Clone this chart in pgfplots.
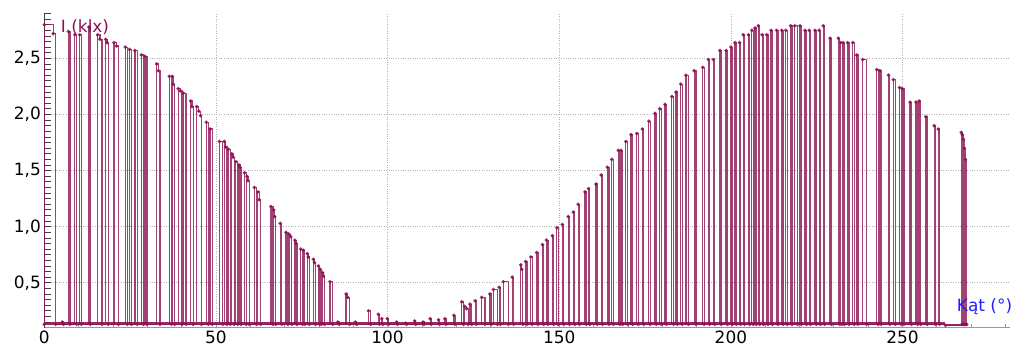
\documentclass[border=0pt]{standalone}
\usepackage{pgfplots}
\pgfplotsset{compat=1.18}
\usepackage{fontspec}
\setmainfont{DejaVu Sans}
\usetikzlibrary{calc}
\definecolor{lux}{RGB}{140,18,82}
\definecolor{kat}{RGB}{30,30,255}
\begin{document}
\begin{tikzpicture}
\begin{axis}[name=ax, scale only axis, width=965.7bp, height=314.2bp,
 xmin=0, xmax=281.3, ymin=0.1, ymax=2.9,
 axis x line=bottom, axis y line=left, axis line style={-},
 x axis line style={gray!80, line width=0.8bp}, y axis line style={black!75, line width=0.8bp},
 xtick={0,50,...,250}, ytick={0.5,1,1.5,2,2.5},
 minor xtick={10,20,...,280}, minor ytick={0.1,0.15,...,2.91},
 tick align=inside,
 major tick length=7bp, minor tick length=7bp,
 xtick style={gray!80, line width=0.8bp, /pgfplots/major tick length=4bp, /pgfplots/minor tick length=4bp},
 ytick style={black!75, line width=0.8bp},
 grid=major, grid style={dotted, gray!60, line width=0.8bp},
 tick label style={font=\fontsize{17}{20}\selectfont, black},
 /pgf/number format/assume math mode=true,
 yticklabel style={/pgf/number format/.cd, fixed, fixed zerofill, precision=1, use comma},
 xticklabel style={/pgf/number format/.cd, fixed, precision=0},
 clip=false,
]
% noise floor between the peaks
\addplot[lux, line width=3.2bp, opacity=0.9, mark=none] coordinates {(0,0.135) (262.3,0.135)};
\addplot[lux, line width=1.5bp, opacity=0.9, mark=none] coordinates {(262.3,0.125) (268.7,0.125)};
\addplot[const plot, color=lux, line width=1.25bp, opacity=0.8, mark=*, mark size=1.1bp, mark options={solid}] coordinates {
(0,0.13) (0,2.80) (2.6,2.72) (3.3,0.13)
(5.2,0.15) (5.6,0.13)
(7.0,2.74) (7.5,0.13)
(8.9,2.71) (9.4,0.13)
(10.3,2.71) (10.8,0.13)
(13.0,2.78) (13.4,0.13)
(15.5,2.71) (16.2,2.67) (16.8,0.13)
(17.9,2.67) (18.3,2.64) (18.6,0.13)
(20.3,2.64) (21.0,2.61) (21.6,0.13)
(23.6,2.60) (24.2,0.13)
(24.8,2.58) (25.4,0.13)
(26.4,2.57) (27.1,0.13)
(28.3,2.53) (28.9,0.13)
(29.3,2.52) (29.9,0.13)
(32.7,2.45) (33.2,2.39) (33.7,0.13)
(36.4,2.34) (37.0,0.13)
(37.3,2.34) (37.6,2.27) (38.0,0.13)
(39.0,2.23) (39.6,2.21) (40.1,0.13)
(40.5,2.19) (41.3,0.13)
(42.6,2.12) (43.0,2.07) (43.4,0.13)
(44.4,2.07) (45.0,2.03) (45.5,1.99) (45.8,0.13)
(47.2,1.93) (47.8,0.13)
(48.3,1.87) (48.9,0.13)
(51.0,1.76) (52.0,0.13)
(52.4,1.76) (52.8,1.71) (53.2,0.13)
(53.6,1.69) (54.2,0.13)
(54.6,1.65) (55.0,1.62) (55.3,0.13)
(55.8,1.58) (56.3,0.13)
(56.7,1.55) (57.0,1.53) (57.3,0.13)
(58.3,1.48) (58.8,0.13)
(59.0,1.45) (59.3,1.41) (59.7,0.13)
(61.2,1.35) (61.8,0.13)
(62.2,1.31) (62.6,1.24) (63.0,0.13)
(66.0,1.18) (66.6,0.13)
(66.8,1.15) (67.1,1.09) (67.4,0.13)
(68.7,1.03) (69.2,0.13)
(70.4,0.95) (71.0,0.13)
(71.4,0.93) (71.8,0.91) (72.1,0.13)
(73.0,0.88) (73.3,0.85) (73.6,0.13)
(74.7,0.80) (75.2,0.13)
(75.5,0.79) (75.9,0.13)
(76.6,0.76) (76.9,0.73) (77.2,0.13)
(78.4,0.71) (78.7,0.68) (79.0,0.13)
(79.8,0.65) (80.2,0.13)
(80.4,0.62) (80.7,0.13)
(81.1,0.59) (81.3,0.56) (81.6,0.13)
(83.2,0.51) (84.0,0.13)
(85.5,0.15) (85.9,0.13)
(87.9,0.40) (88.4,0.37) (88.9,0.13)
(90.6,0.15) (91.0,0.13)
(94.4,0.25) (95.1,0.13)
(97.3,0.22) (97.6,0.13)
(98.3,0.18) (98.6,0.13)
(99.9,0.18) (100.3,0.13)
(102.6,0.15) (102.9,0.13)
(105.2,0.14) (105.5,0.13)
(107.9,0.16) (108.2,0.13)
(110.3,0.15) (110.6,0.13)
(112.4,0.18) (112.7,0.13)
(114.8,0.17) (115.1,0.13)
(116.7,0.18) (117.0,0.13)
(119.3,0.21) (119.6,0.13)
(121.6,0.33) (122.1,0.13)
(122.4,0.29) (123.0,0.27) (123.5,0.13)
(124.0,0.31) (124.5,0.13)
(125.5,0.34) (125.8,0.13)
(127.4,0.37) (128.4,0.13)
(129.8,0.40) (130.2,0.13)
(130.8,0.44) (132.0,0.13)
(132.5,0.46) (132.9,0.13)
(133.7,0.51) (135.2,0.13)
(136.3,0.55) (136.7,0.13)
(138.8,0.66) (139.1,0.62) (139.4,0.13)
(140.2,0.69) (140.6,0.13)
(141.7,0.73) (142.1,0.13)
(143.4,0.77) (143.8,0.13)
(145.1,0.84) (145.5,0.13)
(146.3,0.88) (146.7,0.13)
(148.0,0.92) (148.4,0.13)
(149.3,0.99) (149.7,0.13)
(150.9,1.02) (151.3,0.13)
(152.6,1.09) (153.0,0.13)
(154.1,1.13) (154.5,0.13)
(155.5,1.20) (155.9,0.13)
(157.5,1.31) (157.9,0.13)
(158.5,1.34) (158.9,0.13)
(160.7,1.38) (161.1,0.13)
(162.2,1.46) (162.6,0.13)
(164.0,1.53) (164.5,0.13)
(165.3,1.60) (165.8,0.13)
(167.2,1.68) (167.7,0.13)
(168.0,1.68) (168.5,0.13)
(169.4,1.76) (169.9,0.13)
(170.9,1.82) (171.4,0.13)
(172.6,1.83) (173.0,0.13)
(174.2,1.87) (174.6,0.13)
(176.1,1.94) (176.5,0.13)
(177.9,2.01) (178.3,0.13)
(179.3,2.05) (179.7,0.13)
(180.8,2.09) (181.2,0.13)
(182.8,2.16) (183.3,0.13)
(184.0,2.20) (184.4,0.13)
(185.4,2.27) (185.8,0.13)
(186.9,2.35) (187.6,0.13)
(189.3,2.39) (189.8,0.13)
(191.8,2.42) (192.2,0.13)
(193.4,2.49) (193.8,0.13)
(194.9,2.49) (195.3,0.13)
(196.8,2.57) (197.2,0.13)
(198.6,2.57) (199.0,0.13)
(200.0,2.60) (200.4,0.13)
(201.2,2.64) (201.6,0.13)
(202.5,2.64) (202.9,0.13)
(203.6,2.71) (204.0,0.13)
(205.1,2.71) (205.5,0.13)
(206.1,2.75) (206.5,0.13)
(207.0,2.77) (207.4,0.13)
(208.0,2.79) (208.4,0.13)
(209.1,2.71) (209.5,0.13)
(210.4,2.71) (210.8,0.13)
(211.7,2.75) (212.1,0.13)
(213.3,2.75) (213.7,0.13)
(214.8,2.75) (215.2,0.13)
(216.0,2.75) (216.4,0.13)
(217.4,2.79) (217.8,0.13)
(218.6,2.79) (219.4,0.13)
(220.1,2.79) (220.5,0.13)
(221.6,2.75) (222.0,0.13)
(222.8,2.75) (223.2,0.13)
(224.5,2.75) (224.9,0.13)
(225.7,2.75) (226.1,0.13)
(226.9,2.79) (227.3,0.13)
(228.9,2.68) (229.3,0.13)
(231.3,2.68) (231.7,0.13)
(232.0,2.64) (232.4,0.13)
(232.7,2.64) (233.1,0.13)
(234.0,2.64) (234.4,0.13)
(235.5,2.64) (235.9,0.13)
(236.6,2.53) (237.0,0.13)
(238.4,2.49) (239.5,0.13)
(242.5,2.40) (242.9,0.13)
(243.4,2.39) (243.8,0.13)
(245.9,2.35) (246.3,0.13)
(247.3,2.31) (247.9,0.13)
(249.1,2.24) (249.6,0.13)
(249.9,2.23) (250.4,0.13)
(252.2,2.11) (252.6,0.13)
(253.9,2.11) (254.4,0.13)
(254.8,2.12) (255.3,0.13)
(256.8,1.98) (257.2,0.13)
(259.2,1.90) (259.6,0.13)
(260.4,1.87) (260.8,0.13)
(262.5,0.12)
(267.1,1.84) (267.3,0.13)
(267.4,1.82) (267.6,0.13)
(267.7,1.78) (267.9,0.13)
(268.0,1.70) (268.2,0.13)
(268.3,1.60) (268.5,0.13)
(268.7,0.13)
};
\node[anchor=west, inner sep=0pt, text=lux, font=\fontsize{17}{20}\selectfont] at (axis cs:4.8,2.78) {I (klx)};
\node[anchor=west, inner sep=0pt, text=kat, font=\fontsize{17}{20}\selectfont] at (axis cs:265.8,0.29) {Kąt (°)};
\end{axis}
\pgfresetboundingbox
\path[use as bounding box] ($(ax.south west)+(-44.3bp,-24.3bp)$) rectangle ($(ax.south west)+(968.7bp,327.7bp)$);
\end{tikzpicture}
\end{document}
